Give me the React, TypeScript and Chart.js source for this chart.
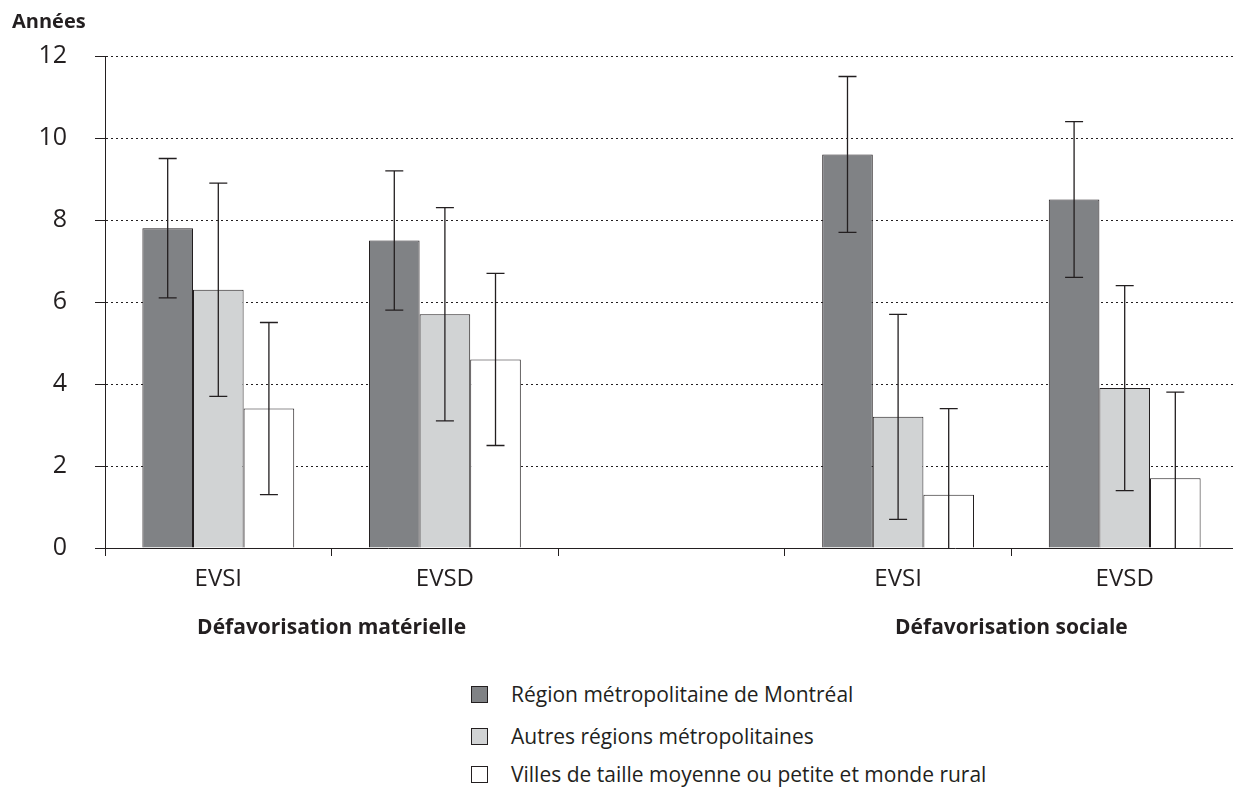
import React, { useEffect, useRef } from "react";
import { Chart, registerables } from "chart.js";

Chart.register(...registerables);

const FONT = "'Open Sans', Lato, sans-serif";
const INK = "#231f20";

const categories = ["EVSI", "EVSD", "", "EVSI", "EVSD"];
const groupLabels = ["Défavorisation matérielle", "Défavorisation sociale"];
const groupPositions = [0.5, 3.5];
const yTickValues = [0, 2, 4, 6, 8, 10, 12];

const seriesNames = [
  "Région métropolitaine de Montréal",
  "Autres régions métropolitaines",
  "Villes de taille moyenne ou petite et monde rural",
];
const seriesColors = ["#808285", "#d1d3d4", "#ffffff"];

const montreal = [7.8, 7.5, null, 9.6, 8.5];
const montrealLow = [6.1, 5.8, null, 7.7, 6.6];
const montrealHigh = [9.5, 9.2, null, 11.5, 10.4];

const autres = [6.3, 5.7, null, 3.2, 3.9];
const autresLow = [3.7, 3.1, null, 0.7, 1.4];
const autresHigh = [8.9, 8.3, null, 5.7, 6.4];

const villes = [3.4, 4.6, null, 1.3, 1.7];
const villesLow = [1.3, 2.5, null, 0, 0];
const villesHigh = [5.5, 6.7, null, 3.4, 3.8];

const errorBarPlugin = {
  id: "errorBars",
  afterDatasetsDraw(chart: any) {
    const ctx = chart.ctx;
    const yScale = chart.scales.y;
    chart.data.datasets.forEach((ds: any, i: number) => {
      const meta = chart.getDatasetMeta(i);
      meta.data.forEach((bar: any, j: number) => {
        const lo = ds.errLow[j];
        const hi = ds.errHigh[j];
        if (lo == null || hi == null) return;
        const x = bar.x;
        const yl = yScale.getPixelForValue(lo);
        const yh = yScale.getPixelForValue(hi);
        ctx.save();
        ctx.strokeStyle = INK;
        ctx.lineWidth = 1.3;
        ctx.beginPath();
        ctx.moveTo(x, yl);
        ctx.lineTo(x, yh);
        ctx.moveTo(x - 9, yh);
        ctx.lineTo(x + 9, yh);
        if (lo > 0) {
          ctx.moveTo(x - 9, yl);
          ctx.lineTo(x + 9, yl);
        }
        ctx.stroke();
        ctx.restore();
      });
    });
  },
};

function ChartCanvas() {
  const ref = useRef<HTMLCanvasElement | null>(null);
  useEffect(() => {
    if (!ref.current) return;
    const mk = (label: string, data: any[], lo: any[], hi: any[], color: string) => ({
      label,
      data,
      errLow: lo,
      errHigh: hi,
      backgroundColor: color,
      borderColor: INK,
      borderWidth: 1,
      categoryPercentage: 0.67,
      barPercentage: 1,
    });
    const chart = new Chart(ref.current, {
      type: "bar",
      data: {
        labels: categories,
        datasets: [
          mk(seriesNames[0], montreal, montrealLow, montrealHigh, seriesColors[0]),
          mk(seriesNames[1], autres, autresLow, autresHigh, seriesColors[1]),
          mk(seriesNames[2], villes, villesLow, villesHigh, seriesColors[2]),
        ] as any,
      },
      options: {
        animation: false,
        responsive: false,
        devicePixelRatio: 1,
        layout: { padding: { left: 12, right: 2, top: 0, bottom: 0 } },
        plugins: {
          legend: { display: false },
          tooltip: { enabled: false },
          title: {
            display: true,
            text: "Années",
            align: "start",
            color: INK,
            font: { family: FONT, size: 20, weight: "bold" },
            padding: { top: 10, bottom: 22 },
          },
        },
        scales: {
          x: {
            type: "category",
            position: "bottom",
            weight: 0,
            grid: {
              offset: true,
              drawOnChartArea: false,
              drawTicks: true,
              tickLength: 8,
              color: INK,
              tickColor: INK,
            },
            border: { color: INK, width: 1 },
            ticks: {
              color: INK,
              font: { family: FONT, size: 24 },
              padding: 9,
              maxRotation: 0,
              autoSkip: false,
            },
            afterFit(scale: any) {
              scale.height = 46;
            },
          },
          x2: {
            type: "linear",
            position: "bottom",
            weight: 1,
            min: -0.5,
            max: 4.5,
            offset: false,
            bounds: "data",
            grid: { display: false, drawTicks: false, offset: false },
            border: { display: false },
            ticks: {
              color: INK,
              font: { family: FONT, size: 21, weight: "bold" },
              padding: 21,
              autoSkip: false,
              maxRotation: 0,
              callback: (v: any) => {
                const k = groupPositions.indexOf(Number(v));
                return k >= 0 ? groupLabels[k] : "";
              },
            },
            afterBuildTicks(scale: any) {
              scale.ticks = groupPositions.map((v) => ({ value: v }));
            },
            afterFit(scale: any) {
              scale.height = 66;
            },
          },
          y: {
            min: 0,
            max: 12,
            afterBuildTicks(scale: any) {
              scale.ticks = yTickValues.map((v) => ({ value: v }));
            },
            ticks: {
              color: INK,
              font: { family: FONT, size: 25 },
              padding: 28,
            },
            grid: {
              color: INK,
              lineWidth: 1,
              tickLength: 10,
              tickColor: INK,
              tickBorderDash: [],
            },
            border: { color: INK, width: 1, dash: [2, 3] },
            afterFit(scale: any) {
              scale.width = 93;
            },
          },
        },
      },
      plugins: [errorBarPlugin],
    } as any);
    return () => chart.destroy();
  }, []);
  return <canvas ref={ref} width={1240} height={660} style={{ position: "absolute", left: 0, top: 0 }} />;
}

export default function App() {
  const legendCenter = [694, 736, 774];
  return (
    <div
      style={{
        position: "fixed",
        left: 0,
        top: 0,
        width: 1233,
        height: 791,
        overflow: "hidden",
        background: "#fff",
        fontFamily: FONT,
        color: INK,
      }}
    >
      <ChartCanvas />
      {seriesNames.map((name, i) => (
        <div
          key={name}
          style={{
            position: "absolute",
            left: 471,
            top: legendCenter[i] - 13,
            height: 26,
            display: "flex",
            alignItems: "center",
            whiteSpace: "nowrap",
          }}
        >
          <span
            style={{
              display: "inline-block",
              width: 15,
              height: 15,
              border: `1px solid ${INK}`,
              background: seriesColors[i],
              marginRight: 23,
              flex: "none",
            }}
          />
          <span style={{ fontSize: 21, lineHeight: "26px" }}>{name}</span>
        </div>
      ))}
    </div>
  );
}
